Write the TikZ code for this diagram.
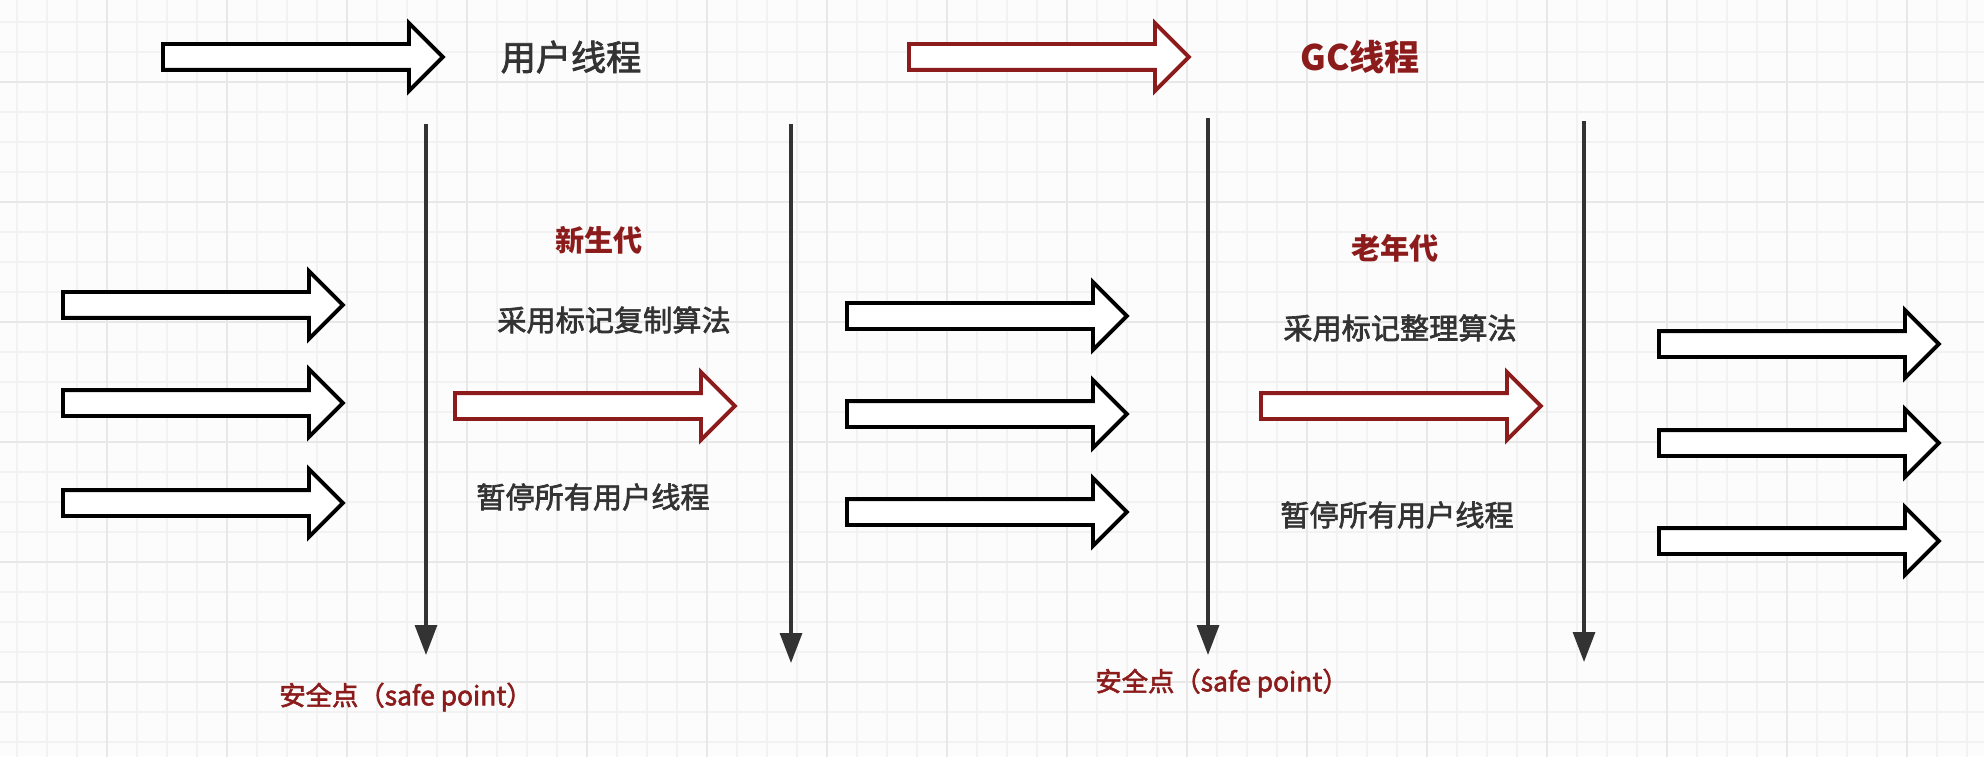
\documentclass[tikz,border=0pt]{standalone}
\usepackage{fontspec}
\setmainfont{Noto Sans CJK SC}
\newfontfamily\medfont{Noto Sans CJK SC}[FakeBold=2.2]
\usetikzlibrary{arrows.meta,positioning,shapes.arrows}
\definecolor{gcred}{RGB}{140,28,28}
\definecolor{ink}{RGB}{51,51,51}

\begin{document}
\begin{tikzpicture}[
        blockarrow/.style={single arrow, draw=black, line width=1.1pt, fill=white, inner xsep=0pt, inner ysep=0.11cm, minimum height=2.8cm, single arrow head extend=0.21cm, single arrow tip angle=90, anchor=tail},
        gcarrow/.style={blockarrow, draw=gcred},
        timeline/.style={draw=ink, line width=0.9pt, -{Triangle[length=3mm, width=2.2mm]}},
        title/.style={font=\fontsize{10}{12}\selectfont\medfont},
        note/.style={text=ink, font=\fontsize{8.3}{10}\selectfont\medfont},
        phase/.style={text=gcred, font=\fontsize{8.3}{10}\selectfont\bfseries},
        safelabel/.style={text=gcred, font=\fontsize{7.5}{9}\selectfont\medfont}]
  \useasboundingbox (0,0) rectangle (19.84,7.56);
  % grid paper
  \fill[black!1] (0,0) rectangle (19.84,7.56);
  \begin{scope}
    \clip (0,0) rectangle (19.84,7.56);
    \draw[black!5, line width=0.4pt, xshift=0.17cm, yshift=0.14cm, step=0.3cm] (-0.3,-0.3) grid (19.8,7.5);
    \draw[black!9, line width=0.5pt, xshift=1.07cm, yshift=0.74cm, step=1.2cm] (-1.2,-1.2) grid (19.2,7.2);
  \end{scope}
  % legend
  \node[blockarrow] (userarrow) at (1.61,6.99) {};
  \node[title, text=ink] (usertitle) at (5.71,6.99) {用户线程};
  \node[gcarrow] (gcarrow) at (9.07,6.99) {};
  \node[text=gcred, font=\fontsize{10}{12}\selectfont\bfseries] (gctitle) at (13.60,6.99) {GC线程};
  % user threads before the first safe point
  \node[blockarrow] (runa1) at (0.61,4.51) {};
  \node[blockarrow, below=0.98cm of runa1.tail, anchor=tail] (runa2) {};
  \node[blockarrow, below=1.0cm of runa2.tail, anchor=tail] (runa3) {};
  % safe points
  \coordinate (safe1top) at (4.26,6.32);
  \coordinate (safe1bot) at (4.26,1.01);
  \coordinate (safe2top) at (7.91,6.32);
  \coordinate (safe2bot) at (7.91,0.93);
  \coordinate (safe3top) at (12.08,6.38);
  \coordinate (safe3bot) at (12.08,1.01);
  \coordinate (safe4top) at (15.84,6.35);
  \coordinate (safe4bot) at (15.84,0.94);
  \draw[timeline] (safe1top) -- (safe1bot);
  \draw[timeline] (safe2top) -- (safe2bot);
  \draw[timeline] (safe3top) -- (safe3bot);
  \draw[timeline] (safe4top) -- (safe4bot);
  \node[safelabel] (safe1label) at (4.06,0.59) {安全点（safe point）};
  \node[safelabel] (safe3label) at (12.22,0.73) {安全点（safe point）};
  % young generation
  \node[phase] (young) at (5.99,5.16) {新生代};
  \node[note] (youngalg) at (6.14,4.36) {采用标记复制算法};
  \node[gcarrow] (younggc) at (4.53,3.50) {};
  \node[note] (youngstop) at (5.93,2.59) {暂停所有用户线程};
  % user threads between the collections
  \node[blockarrow] (runb1) at (8.45,4.40) {};
  \node[blockarrow, below=0.98cm of runb1.tail, anchor=tail] (runb2) {};
  \node[blockarrow, below=0.98cm of runb2.tail, anchor=tail] (runb3) {};
  % old generation
  \node[phase] (old) at (13.95,5.08) {老年代};
  \node[note] (oldalg) at (14.00,4.28) {采用标记整理算法};
  \node[gcarrow] (oldgc) at (12.59,3.50) {};
  \node[note] (oldstop) at (13.97,2.41) {暂停所有用户线程};
  % user threads after the last safe point
  \node[blockarrow] (runc1) at (16.57,4.12) {};
  \node[blockarrow, below=0.99cm of runc1.tail, anchor=tail] (runc2) {};
  \node[blockarrow, below=0.98cm of runc2.tail, anchor=tail] (runc3) {};
\end{tikzpicture}
\end{document}
